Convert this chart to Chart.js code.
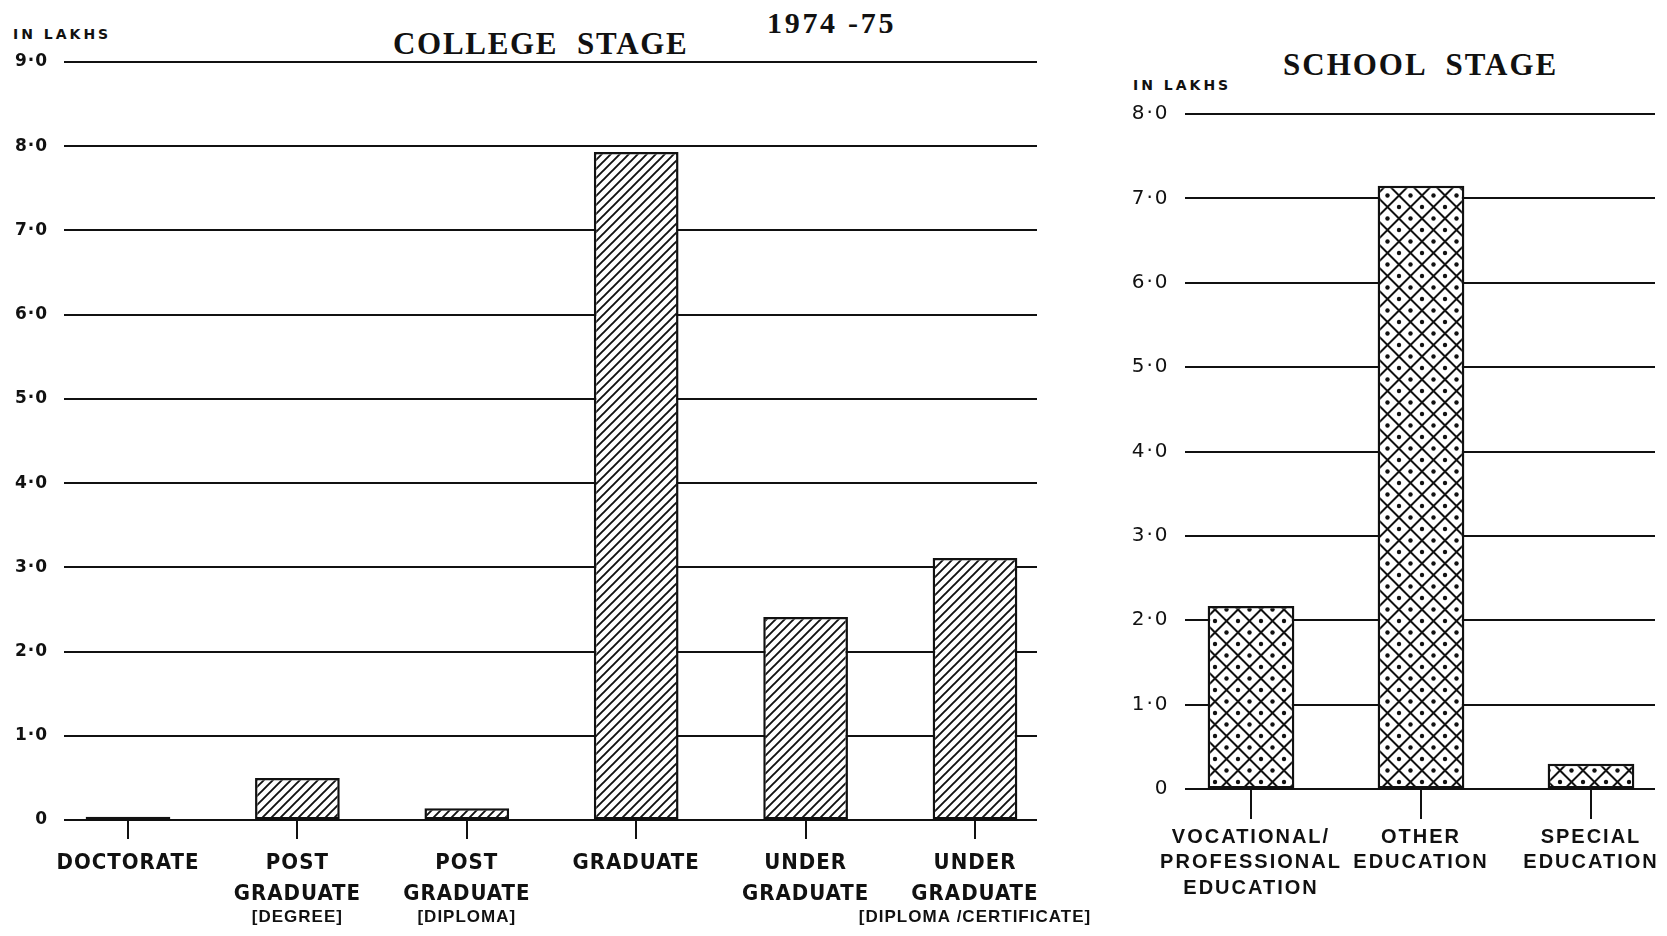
<!DOCTYPE html>
<html>
<head>
<meta charset="utf-8">
<script src="https://cdn.jsdelivr.net/npm/chart.js@4.4.1/dist/chart.umd.min.js"></script>
<style>
  body { margin: 0; background: #fff; width: 1667px; height: 936px; position: relative; overflow: hidden; }
  canvas { position: absolute; top: 0; }
  #collegeChart { left: 0; }
  #schoolChart { left: 1100px; }
  .txt { position: absolute; color: #111; white-space: pre; line-height: 1; }
  .title { font-family: 'Liberation Serif', serif; font-weight: bold; }
  .unit { font-family: 'DejaVu Sans', sans-serif; font-weight: bold; font-size: 14px; letter-spacing: 3px; }
</style>
</head>
<body>
<div class="txt unit" style="left:13px; top:27px;">IN LAKHS</div>
<div class="txt title" style="left:393px; top:28px; font-size:31px; letter-spacing:1.7px;">COLLEGE  STAGE</div>
<div class="txt title" style="left:767px; top:8px; font-size:30px; letter-spacing:2.7px;">1974 -75</div>
<div class="txt title" style="left:1283px; top:49px; font-size:31px; letter-spacing:2px;">SCHOOL  STAGE</div>
<div class="txt unit" style="left:1133px; top:78px; font-weight:600;">IN LAKHS</div>
<canvas id="collegeChart" width="1100" height="936"></canvas>
<canvas id="schoolChart" width="567" height="936"></canvas>
<script>
// College stage (1974-75), in lakhs
const collegeLabels = [['DOCTORATE'], ['POST', 'GRADUATE'], ['POST', 'GRADUATE'], ['GRADUATE'], ['UNDER', 'GRADUATE'], ['UNDER', 'GRADUATE']];
const collegeNotes = ['', '[DEGREE]', '[DIPLOMA]', '', '', '[DIPLOMA /CERTIFICATE]'];
const collegeValues = [0.04, 0.5, 0.14, 7.93, 2.41, 3.11];
const collegeTicks = ['0', '1·0', '2·0', '3·0', '4·0', '5·0', '6·0', '7·0', '8·0', '9·0'];

// School stage, in lakhs
const schoolLabels = [['VOCATIONAL/', 'PROFESSIONAL', 'EDUCATION'], ['OTHER', 'EDUCATION'], ['SPECIAL', 'EDUCATION']];
const schoolValues = [2.17, 7.15, 0.30];
const schoolTicks = ['0', '1·0', '2·0', '3·0', '4·0', '5·0', '6·0', '7·0', '8·0'];

const ink = '#111';

// diagonal hatching ////
function hatchPattern(ctx) {
  const c = document.createElement('canvas');
  c.width = 9; c.height = 9;
  const g = c.getContext('2d');
  g.fillStyle = '#fff';
  g.fillRect(0, 0, 9, 9);
  g.strokeStyle = ink;
  g.lineWidth = 1.9;
  g.beginPath();
  g.moveTo(-1, 10); g.lineTo(10, -1);
  g.moveTo(-1, 1); g.lineTo(1, -1);
  g.moveTo(8, 10); g.lineTo(10, 8);
  g.stroke();
  return ctx.createPattern(c, 'repeat');
}

// cross hatching with a dot in every diamond
function dotCrossPattern(ctx) {
  const s = 23, h = s / 2;
  const c = document.createElement('canvas');
  c.width = s; c.height = s;
  const g = c.getContext('2d');
  g.fillStyle = '#fff';
  g.fillRect(0, 0, s, s);
  g.strokeStyle = ink;
  g.lineWidth = 2;
  g.beginPath();
  g.moveTo(0, h); g.lineTo(h, 0); g.lineTo(s, h); g.lineTo(h, s); g.closePath();
  g.stroke();
  g.fillStyle = ink;
  [[h, h], [0, 0], [s, 0], [0, s], [s, s]].forEach(p => {
    g.beginPath();
    g.arc(p[0], p[1], 2.2, 0, Math.PI * 2);
    g.fill();
  });
  return ctx.createPattern(c, 'repeat');
}

// horizontal rules that run a little past the outer bars
const gridLines = {
  id: 'gridLines',
  beforeDatasetsDraw(chart, args, opts) {
    const { ctx, chartArea, scales: { y } } = chart;
    ctx.save();
    ctx.strokeStyle = ink;
    ctx.lineWidth = opts.width;
    y.ticks.forEach(t => {
      const py = Math.round(y.getPixelForValue(t.value));
      ctx.beginPath();
      ctx.moveTo(chartArea.left - opts.left, py);
      ctx.lineTo(chartArea.right + opts.right, py);
      ctx.stroke();
    });
    ctx.restore();
  }
};

// small bracketed sub-labels under the category names
const notes = {
  id: 'notes',
  afterDraw(chart, args, opts) {
    if (!opts.items) return;
    const { ctx, chartArea, scales: { x } } = chart;
    ctx.save();
    ctx.font = opts.font;
    ctx.fillStyle = ink;
    ctx.textAlign = 'center';
    ctx.textBaseline = 'middle';
    ctx.letterSpacing = opts.spacing;
    opts.items.forEach((s, i) => {
      if (s) ctx.fillText(s, x.getPixelForValue(i), chartArea.bottom + opts.offset);
    });
    ctx.restore();
  }
};

// letter spacing for the axis labels
const spacing = {
  id: 'spacing',
  beforeLayout(chart, args, opts) { chart.ctx.letterSpacing = opts.value; },
  beforeDraw(chart, args, opts) { chart.ctx.letterSpacing = opts.value; }
};

function makeChart(id, labels, values, ticks, pattern, cfg) {
  const ctx = document.getElementById(id).getContext('2d');
  return new Chart(ctx, {
    type: 'bar',
    data: {
      labels: labels,
      datasets: [{
        data: values,
        backgroundColor: pattern(ctx),
        borderColor: ink,
        borderWidth: 2.5,
        borderSkipped: false,
        categoryPercentage: 1,
        barPercentage: cfg.barPct,
        clip: false
      }]
    },
    options: {
      responsive: false,
      animation: false,
      events: [],
      layout: { padding: cfg.padding },
      plugins: {
        legend: { display: false },
        tooltip: { enabled: false },
        gridLines: cfg.grid,
        notes: cfg.notes,
        spacing: { value: cfg.letterSpacing }
      },
      scales: {
        x: {
          offset: false,
          // short tick marks under the middle of each bar
          grid: { offset: false, drawOnChartArea: false, drawTicks: true, tickLength: cfg.tickLength, color: ink, lineWidth: 2 },
          border: { display: false },
          ticks: {
            color: ink,
            padding: cfg.labelPadding,
            autoSkip: false,
            maxRotation: 0,
            font: cfg.labelFont
          },
          afterFit: s => { s.height = cfg.xHeight; }
        },
        y: {
          min: 0,
          max: ticks.length - 1,
          // invisible tick marks keep the labels clear of the rules
          grid: { drawOnChartArea: false, drawTicks: true, tickLength: cfg.labelGap, color: 'rgba(0,0,0,0)' },
          border: { display: false },
          ticks: {
            stepSize: 1,
            padding: 0,
            color: ink,
            font: cfg.yFont,
            callback: v => ticks[v]
          },
          afterFit: s => { s.width = cfg.yWidth; }
        }
      }
    },
    plugins: [spacing, gridLines, notes]
  });
}

makeChart('collegeChart', collegeLabels, collegeValues, collegeTicks, hatchPattern, {
  barPct: 0.5,
  padding: { left: 0, right: 125, top: 62, bottom: 16 },
  yWidth: 128,
  xHeight: 100,
  grid: { left: 64, right: 62, width: 2 },
  notes: { items: collegeNotes, font: "bold 17px 'Liberation Sans', sans-serif", spacing: '1px', offset: 97 },
  letterSpacing: '1px',
  tickLength: 19,
  labelPadding: 9,
  labelGap: 80,
  labelFont: { family: "'DejaVu Sans Condensed', 'DejaVu Sans', sans-serif", weight: 'bold', size: 22, lineHeight: 1.41 },
  yFont: { family: "'DejaVu Sans', sans-serif", weight: 'bold', size: 17 }
});

makeChart('schoolChart', schoolLabels, schoolValues, schoolTicks, dotCrossPattern, {
  barPct: 0.51,
  padding: { left: 0, right: 76, top: 114, bottom: 22 },
  yWidth: 151,
  xHeight: 125,
  grid: { left: 66, right: 64, width: 1.8 },
  notes: {},
  letterSpacing: '2px',
  tickLength: 30,
  labelPadding: 5.5,
  labelGap: 81.5,
  labelFont: { family: "'Liberation Sans', sans-serif", weight: 'bold', size: 20, lineHeight: 1.28 },
  yFont: { family: "'DejaVu Sans', sans-serif", weight: 'normal', size: 20 }
});
</script>
</body>
</html>
